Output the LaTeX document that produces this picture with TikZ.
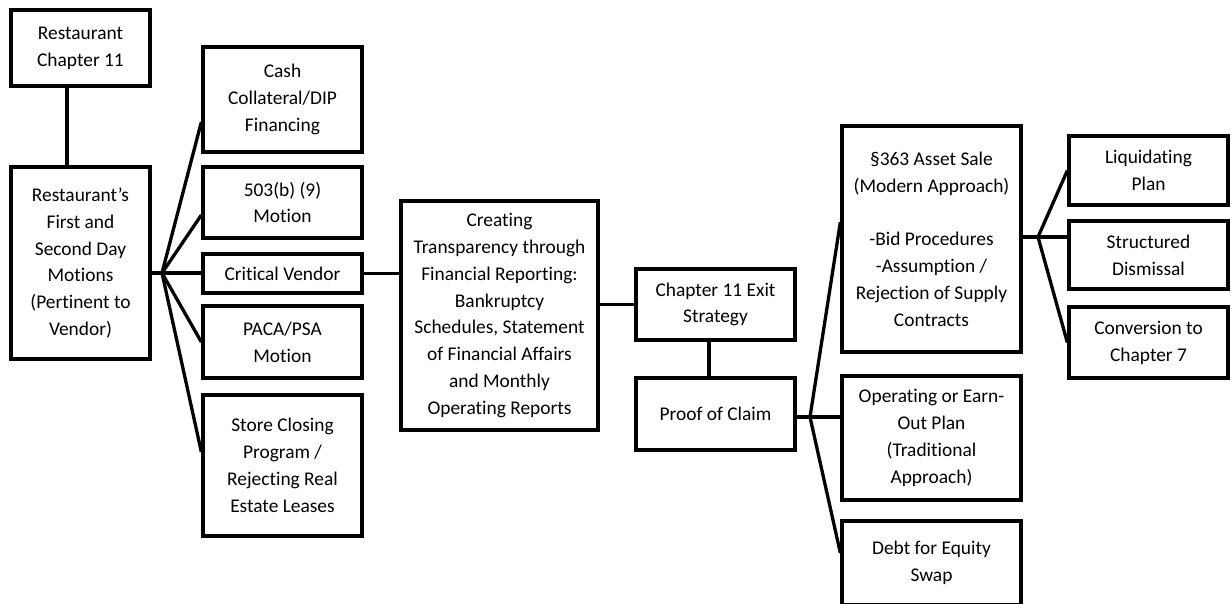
\documentclass[tikz,border=0pt]{standalone}
\usepackage{fontspec}
\setmainfont{Carlito}[Ligatures=NoCommon]
\begin{document}
\begin{tikzpicture}[x=1pt,y=-1pt,
  box/.style={draw, line width=3.3pt, inner sep=0pt, align=center,
    font=\fontsize{19.4}{26.8}\selectfont},
  link/.style={line width=3.3pt}]
\clip (0,0) rectangle (1231,603);
\fill[white] (0,0) rectangle (1231,603);

% left column
\node[box, minimum width=139pt, minimum height=76pt] (ch11) at (80.5,48) {Restaurant\\Chapter 11};
\node[box, minimum width=139pt, minimum height=192pt] (mot) at (80.5,263)
  {Restaurant’s\\First and\\Second Day\\Motions\\(Pertinent to\\Vendor)};

% first and second day motions
\node[box, minimum width=159pt, minimum height=105pt] (cash) at (282.5,99.5) {Cash\\Collateral/DIP\\Financing};
\node[box, minimum width=159pt, minimum height=71pt] (b9) at (282.5,202.5) {503(b) (9)\\Motion};
\node[box, minimum width=159pt, minimum height=39pt] (crit) at (282.5,273.5) {Critical Vendor};
\node[box, minimum width=159pt, minimum height=72pt] (paca) at (282.5,342) {PACA/PSA\\Motion};
\node[box, minimum width=159pt, minimum height=141pt] (store) at (282.5,465.5)
  {Store Closing\\Program /\\Rejecting Real\\Estate Leases};

% reporting
\node[box, minimum width=197pt, minimum height=229pt] (trans) at (499.5,315.5)
  {Creating\\Transparency through\\Financial Reporting:\\Bankruptcy\\Schedules, Statement\\of Financial Affairs\\and Monthly\\Operating Reports};

% exit
\node[box, minimum width=159pt, minimum height=71pt] (exit) at (715.5,304.5) {Chapter 11 Exit\\Strategy};
\node[box, minimum width=159pt, minimum height=72pt] (proof) at (715.5,414) {Proof of Claim};

% exit strategies
\node[box, minimum width=179pt, minimum height=226pt] (sale) at (931.5,239)
  {§363 Asset Sale\\(Modern Approach)\\[26.8pt]-Bid Procedures\\-Assumption /\\Rejection of Supply\\Contracts};
\node[box, minimum width=179pt, minimum height=124pt] (oper) at (931.5,438)
  {Operating or Earn-\\Out Plan\\(Traditional\\Approach)};
\node[box, minimum width=179pt, minimum height=84pt] (debt) at (931.5,563) {Debt for Equity\\Swap};

% sale outcomes
\node[box, minimum width=159pt, minimum height=69pt] (liq) at (1148.5,170.5) {Liquidating\\Plan};
\node[box, minimum width=159pt, minimum height=68pt] (struct) at (1148.5,255) {Structured\\Dismissal};
\node[box, minimum width=159pt, minimum height=71pt] (conv) at (1148.5,342.5) {Conversion to\\Chapter 7};

% connectors
\coordinate (h1) at (162,273);
\coordinate (h2) at (810,417);
\coordinate (h3) at (1038,237);

\draw[link] ([xshift=-13.5pt]ch11.south) -- ([xshift=-13.5pt]mot.north);
\draw[link] (mot.east |- h1) -- (h1) -- (h1 -| crit.west);
\draw[link] (h1) -- ([yshift=-22.5pt]cash.west);
\draw[link] (h1) -- ([yshift=-12.5pt]b9.west);
\draw[link] (h1) -- (paca.west);
\draw[link] (h1) -- ([yshift=13.5pt]store.west);

\draw[link] (crit.east) -- (crit.east -| trans.west);
\draw[link] (trans.east |- exit.west) -- (exit.west);
\draw[link] ([xshift=-6.5pt]exit.south) -- ([xshift=-6.5pt]proof.north);

\draw[link] (proof.east |- h2) -- (h2) -- (h2 -| oper.west);
\draw[link] (h2) -- ([yshift=17pt]sale.west);
\draw[link] (h2) -- ([yshift=10pt]debt.west);

\draw[link] (sale.east |- h3) -- (h3) -- (h3 -| struct.west);
\draw[link] (h3) -- (liq.west);
\draw[link] (h3) -- (conv.west);
\end{tikzpicture}
\end{document}
